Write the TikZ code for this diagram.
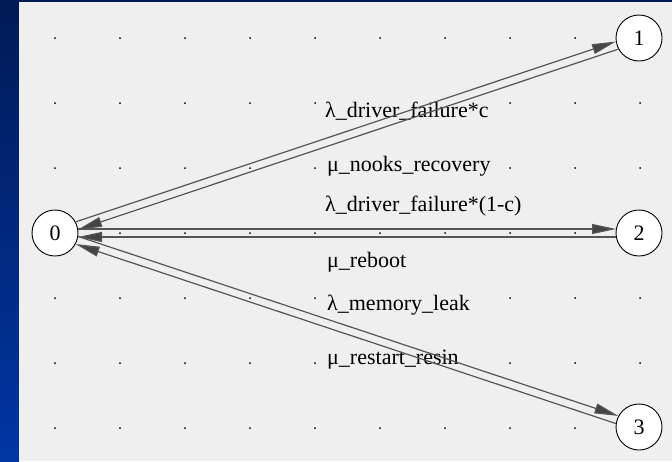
\documentclass[tikz,border=0pt]{standalone}
\usepackage{fontspec}
\setmainfont{Liberation Serif}
\usetikzlibrary{arrows.meta,calc}
\definecolor{panel}{HTML}{EFEFEF}
\definecolor{navy}{HTML}{001A55}
\definecolor{blueb}{HTML}{0035A4}
\definecolor{edgec}{HTML}{555555}
\definecolor{arrc}{HTML}{444444}
\begin{document}
\begin{tikzpicture}[x=1pt,y=-1pt,
  state/.style={circle,draw=black,line width=0.9pt,fill=white,minimum size=46pt,inner sep=0pt,font=\fontsize{22}{24}\selectfont},
  lbl/.style={fill=panel,inner sep=1pt,font=\fontsize{22}{24}\selectfont,anchor=base west},
  edge/.style={draw=edgec,line width=1.2pt,-{Triangle[length=24pt,width=10pt,fill=arrc]},shorten <=23pt,shorten >=23pt},
  griddot/.style={fill=black}]
\useasboundingbox (0,0) rectangle (672,461);
% background
\fill[navy] (0,0) rectangle (672,461);
\shade[top color=navy,bottom color=blueb] (0,0) rectangle (19,461);
\fill[panel] (19,2) rectangle (672,461);
% grid dots
\foreach \i in {0,...,9}
  \foreach \j in {0,...,6}
    \fill[griddot] (55+65*\i,38+65*\j) circle (1.0);
% labels
\node[lbl] (l1) at (324,117) {λ\_driver\_failure*c};
\node[lbl] (l2) at (326,171) {μ\_nooks\_recovery};
\node[lbl] (l3) at (324,211) {λ\_driver\_failure*(1-c)};
\node[lbl] (l4) at (326,267) {μ\_reboot};
\node[lbl] (l5) at (326,310) {λ\_memory\_leak};
\node[lbl] (l6) at (326,364) {μ\_restart\_resin};
% states
\node[state] (n0) at (55,233) {0};
\node[state] (n1) at (639,38) {1};
\node[state] (n2) at (639,233) {2};
\node[state] (n3) at (639,427) {3};
% transitions (each offset to its left side)
\foreach \a/\b in {n0/n1,n1/n0,n0/n2,n2/n0,n0/n3,n3/n0}
  \draw[edge] ($(\a.center)!4pt!90:(\b.center)$) -- ($(\b.center)!4pt!-90:(\a.center)$);
\end{tikzpicture}
\end{document}
